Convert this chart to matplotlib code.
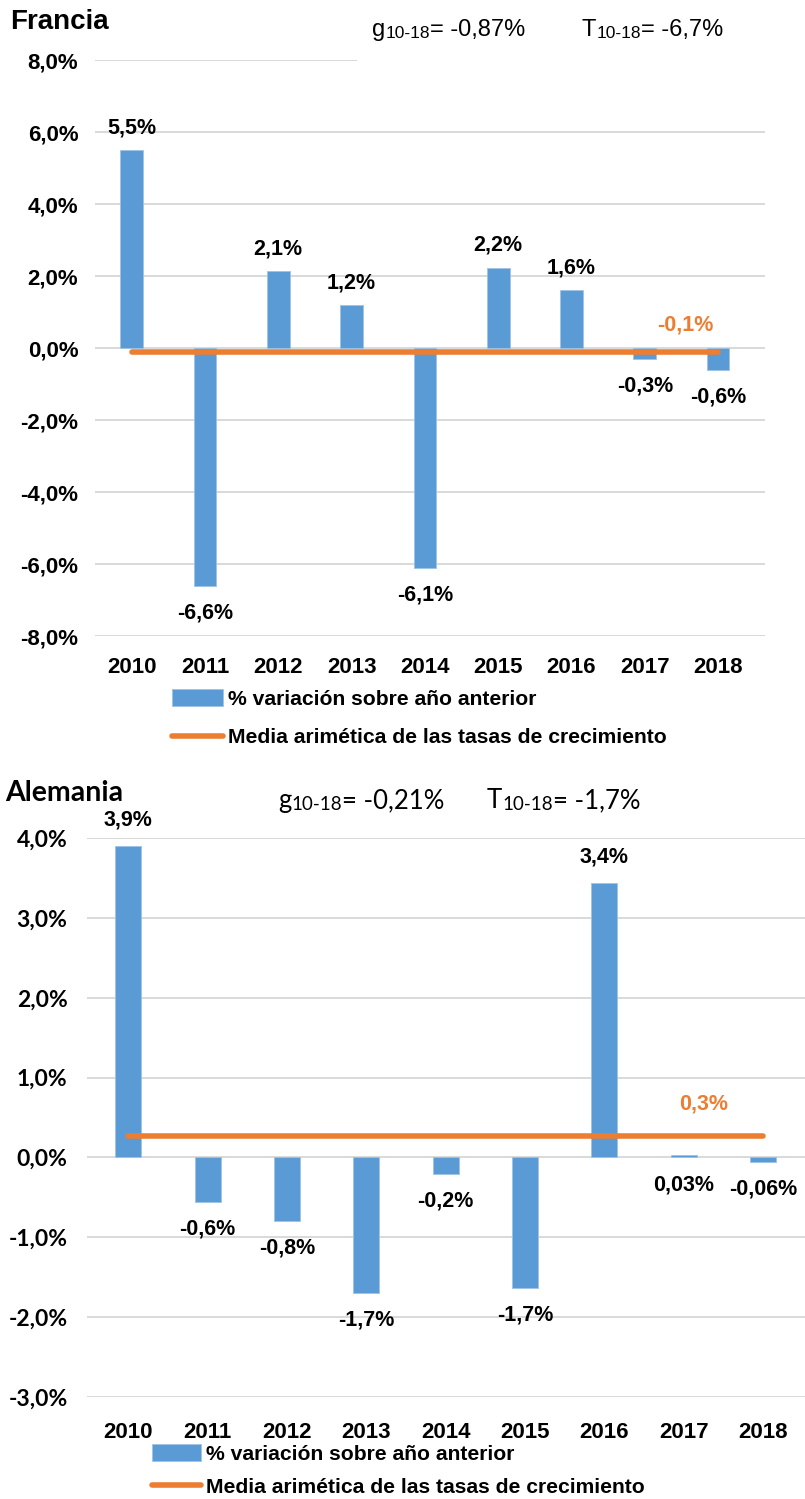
import matplotlib
matplotlib.use("Agg")
import matplotlib.pyplot as plt
from matplotlib.ticker import FixedLocator

# ---------------- data ----------------
years = ["2010", "2011", "2012", "2013", "2014", "2015", "2016", "2017", "2018"]

fr_values = [5.5, -6.6, 2.13, 1.2, -6.1, 2.23, 1.6, -0.3, -0.61]
fr_labels = ["5,5%", "-6,6%", "2,1%", "1,2%", "-6,1%", "2,2%", "1,6%", "-0,3%", "-0,6%"]
fr_mean = -0.104
fr_mean_label = "-0,1%"
fr_yticks = [-8, -6, -4, -2, 0, 2, 4, 6, 8]
fr_ytick_labels = ["-8,0%", "-6,0%", "-4,0%", "-2,0%", "0,0%", "2,0%", "4,0%", "6,0%", "8,0%"]
fr_g = "-0,87%"
fr_T = "-6,7%"

de_values = [3.9, -0.56, -0.79, -1.70, -0.21, -1.63, 3.44, 0.03, -0.06]
de_labels = ["3,9%", "-0,6%", "-0,8%", "-1,7%", "-0,2%", "-1,7%", "3,4%", "0,03%", "-0,06%"]
de_mean = 0.269
de_mean_label = "0,3%"
de_yticks = [-3, -2, -1, 0, 1, 2, 3, 4]
de_ytick_labels = ["-3,0%", "-2,0%", "-1,0%", "0,0%", "1,0%", "2,0%", "3,0%", "4,0%"]
de_g = "-0,21%"
de_T = "-1,7%"

legend_bar = "% variación sobre año anterior"
legend_line = "Media arimética de las tasas de crecimiento"

# ---------------- style ----------------
BLUE = "#5B9BD5"
ORANGE = "#ED7D31"
GRID = "#D9D9D9"
ARIAL = ["Liberation Sans", "DejaVu Sans"]
CALIBRI = ["Lato", "Open Sans", "DejaVu Sans"]

W, H = 805, 1499
fig = plt.figure(figsize=(W / 100, H / 100), dpi=100)
fig.patch.set_facecolor("white")


def px_axes(left, top, right, bottom):
    return fig.add_axes([left / W, 1 - bottom / H, (right - left) / W, (bottom - top) / H])


def header(x_px, y_px, letter, value, family, size, subsize):
    t1 = fig.text(x_px / W, 1 - y_px / H, letter, family=family, fontsize=size,
                  va="baseline", ha="left", color="black")
    t2 = plt.annotate("10-18", xy=(1, 0), xycoords=t1, family=family, fontsize=subsize,
                      va="bottom", ha="left", annotation_clip=False)
    plt.annotate("= " + value, xy=(1, 0), xycoords=(t2, t1), family=family, fontsize=size,
                 va="bottom", ha="left", annotation_clip=False)


def style_axes(ax, ticks, ticklabels, tick_family, tick_size, ypad, xpad, xsize):
    for s in ax.spines.values():
        s.set_visible(False)
    ax.tick_params(axis="both", length=0)
    ax.yaxis.set_major_locator(FixedLocator(ticks))
    ax.set_yticklabels(ticklabels, family=tick_family, fontsize=tick_size, fontweight="bold")
    ax.tick_params(axis="y", pad=ypad)
    ax.set_xticks(range(len(years)))
    ax.set_xticklabels(years, family=ARIAL, fontsize=xsize, fontweight="bold")
    ax.tick_params(axis="x", pad=xpad)
    ax.set_facecolor("none")


x = list(range(len(years)))

# ================= Francia =================
ax1 = px_axes(95, 60, 765, 636)
ax1.set_ylim(-8, 8)
ax1.set_xlim(-0.5, 8.64)
for t in fr_yticks:
    if t == 8:
        ax1.axhline(t, xmin=0, xmax=(356 - 95) / (765 - 95), color=GRID, lw=1.4, zorder=0)
    else:
        ax1.axhline(t, color=GRID, lw=1.4, zorder=0)
bars1 = ax1.bar(x, fr_values, width=0.31, color=BLUE, edgecolor="#9DC3E6", linewidth=0.6,
                zorder=2, label=legend_bar)
line1, = ax1.plot([x[0], x[-1]], [fr_mean, fr_mean], color=ORANGE, lw=4, solid_capstyle="round",
                  zorder=3, label=legend_line)
for xi, v, lab in zip(x, fr_values, fr_labels):
    off = 16 if v >= 0 else -19.5
    ax1.annotate(lab, xy=(xi, v), xytext=(0, off), textcoords="offset points", ha="center",
                 va="center", family=ARIAL, fontsize=15.5, fontweight="bold", color="black")
ax1.annotate(fr_mean_label, xy=(7.55, fr_mean), xytext=(0, 19), textcoords="offset points",
             ha="center", va="center", family=ARIAL, fontsize=15.5, fontweight="bold", color=ORANGE)
style_axes(ax1, fr_yticks, fr_ytick_labels, ARIAL, 16, 12, 15, 16)
ax1.legend(handles=[bars1, line1], loc="upper left", bbox_to_anchor=(172 / W, 1 - 689 / H),
           bbox_transform=fig.transFigure, frameon=False,
           prop={"family": ARIAL, "size": 15.2, "weight": "bold"},
           handlelength=2.4, handleheight=0.85, handletextpad=0.25, labelspacing=0.9,
           borderpad=0, borderaxespad=0)

fig.text(10 / W, 1 - 22 / H, "Francia", family=ARIAL, fontsize=20, fontweight="bold",
         va="center", ha="left")
header(372, 36, "g", fr_g, ARIAL, 17, 12.5)
header(582, 36, "T", fr_T, ARIAL, 17, 12.5)

# ================= Alemania =================
ax2 = px_axes(87, 838, 805, 1397)
ax2.set_ylim(-3, 4)
ax2.set_xlim(-0.52, 8.53)
for t in de_yticks:
    ax2.axhline(t, color=GRID, lw=1.4, zorder=0)
bars2 = ax2.bar(x, de_values, width=0.33, color=BLUE, edgecolor="#9DC3E6", linewidth=0.6,
                zorder=2, label=legend_bar)
line2, = ax2.plot([x[0], x[-1]], [de_mean, de_mean], color=ORANGE, lw=4, solid_capstyle="round",
                  zorder=3, label=legend_line)
for xi, v, lab in zip(x, de_values, de_labels):
    if v >= 0.5:
        ax2.annotate(lab, xy=(xi, v), xytext=(0, 18.5), textcoords="offset points", ha="center",
                     va="center", family=ARIAL, fontsize=15.5, fontweight="bold", color="black")
    else:
        ax2.annotate(lab, xy=(xi, min(v, 0)), xytext=(0, -19.5), textcoords="offset points",
                     ha="center", va="center", family=ARIAL, fontsize=15.5, fontweight="bold",
                     color="black")
ax2.annotate(de_mean_label, xy=(7.25, de_mean), xytext=(0, 23), textcoords="offset points",
             ha="center", va="center", family=ARIAL, fontsize=15.5, fontweight="bold", color=ORANGE)
style_axes(ax2, de_yticks, de_ytick_labels, CALIBRI, 16.5, 14, 18, 16)
ax2.legend(handles=[bars2, line2], loc="upper left", bbox_to_anchor=(152 / W, 1 - 1444 / H),
           bbox_transform=fig.transFigure, frameon=False,
           prop={"family": ARIAL, "size": 15.2, "weight": "bold"},
           handlelength=2.3, handleheight=0.85, handletextpad=0.25, labelspacing=0.65,
           borderpad=0, borderaxespad=0)

fig.text(5 / W, 1 - 793 / H, "Alemania", family=CALIBRI, fontsize=20.5, fontweight="bold",
         va="center", ha="left")
header(278, 808, "g", de_g, CALIBRI, 18.5, 13.5)
header(487, 808, "T", de_T, CALIBRI, 18.5, 13.5)

fig.savefig("out.png", dpi=100, facecolor="white")
